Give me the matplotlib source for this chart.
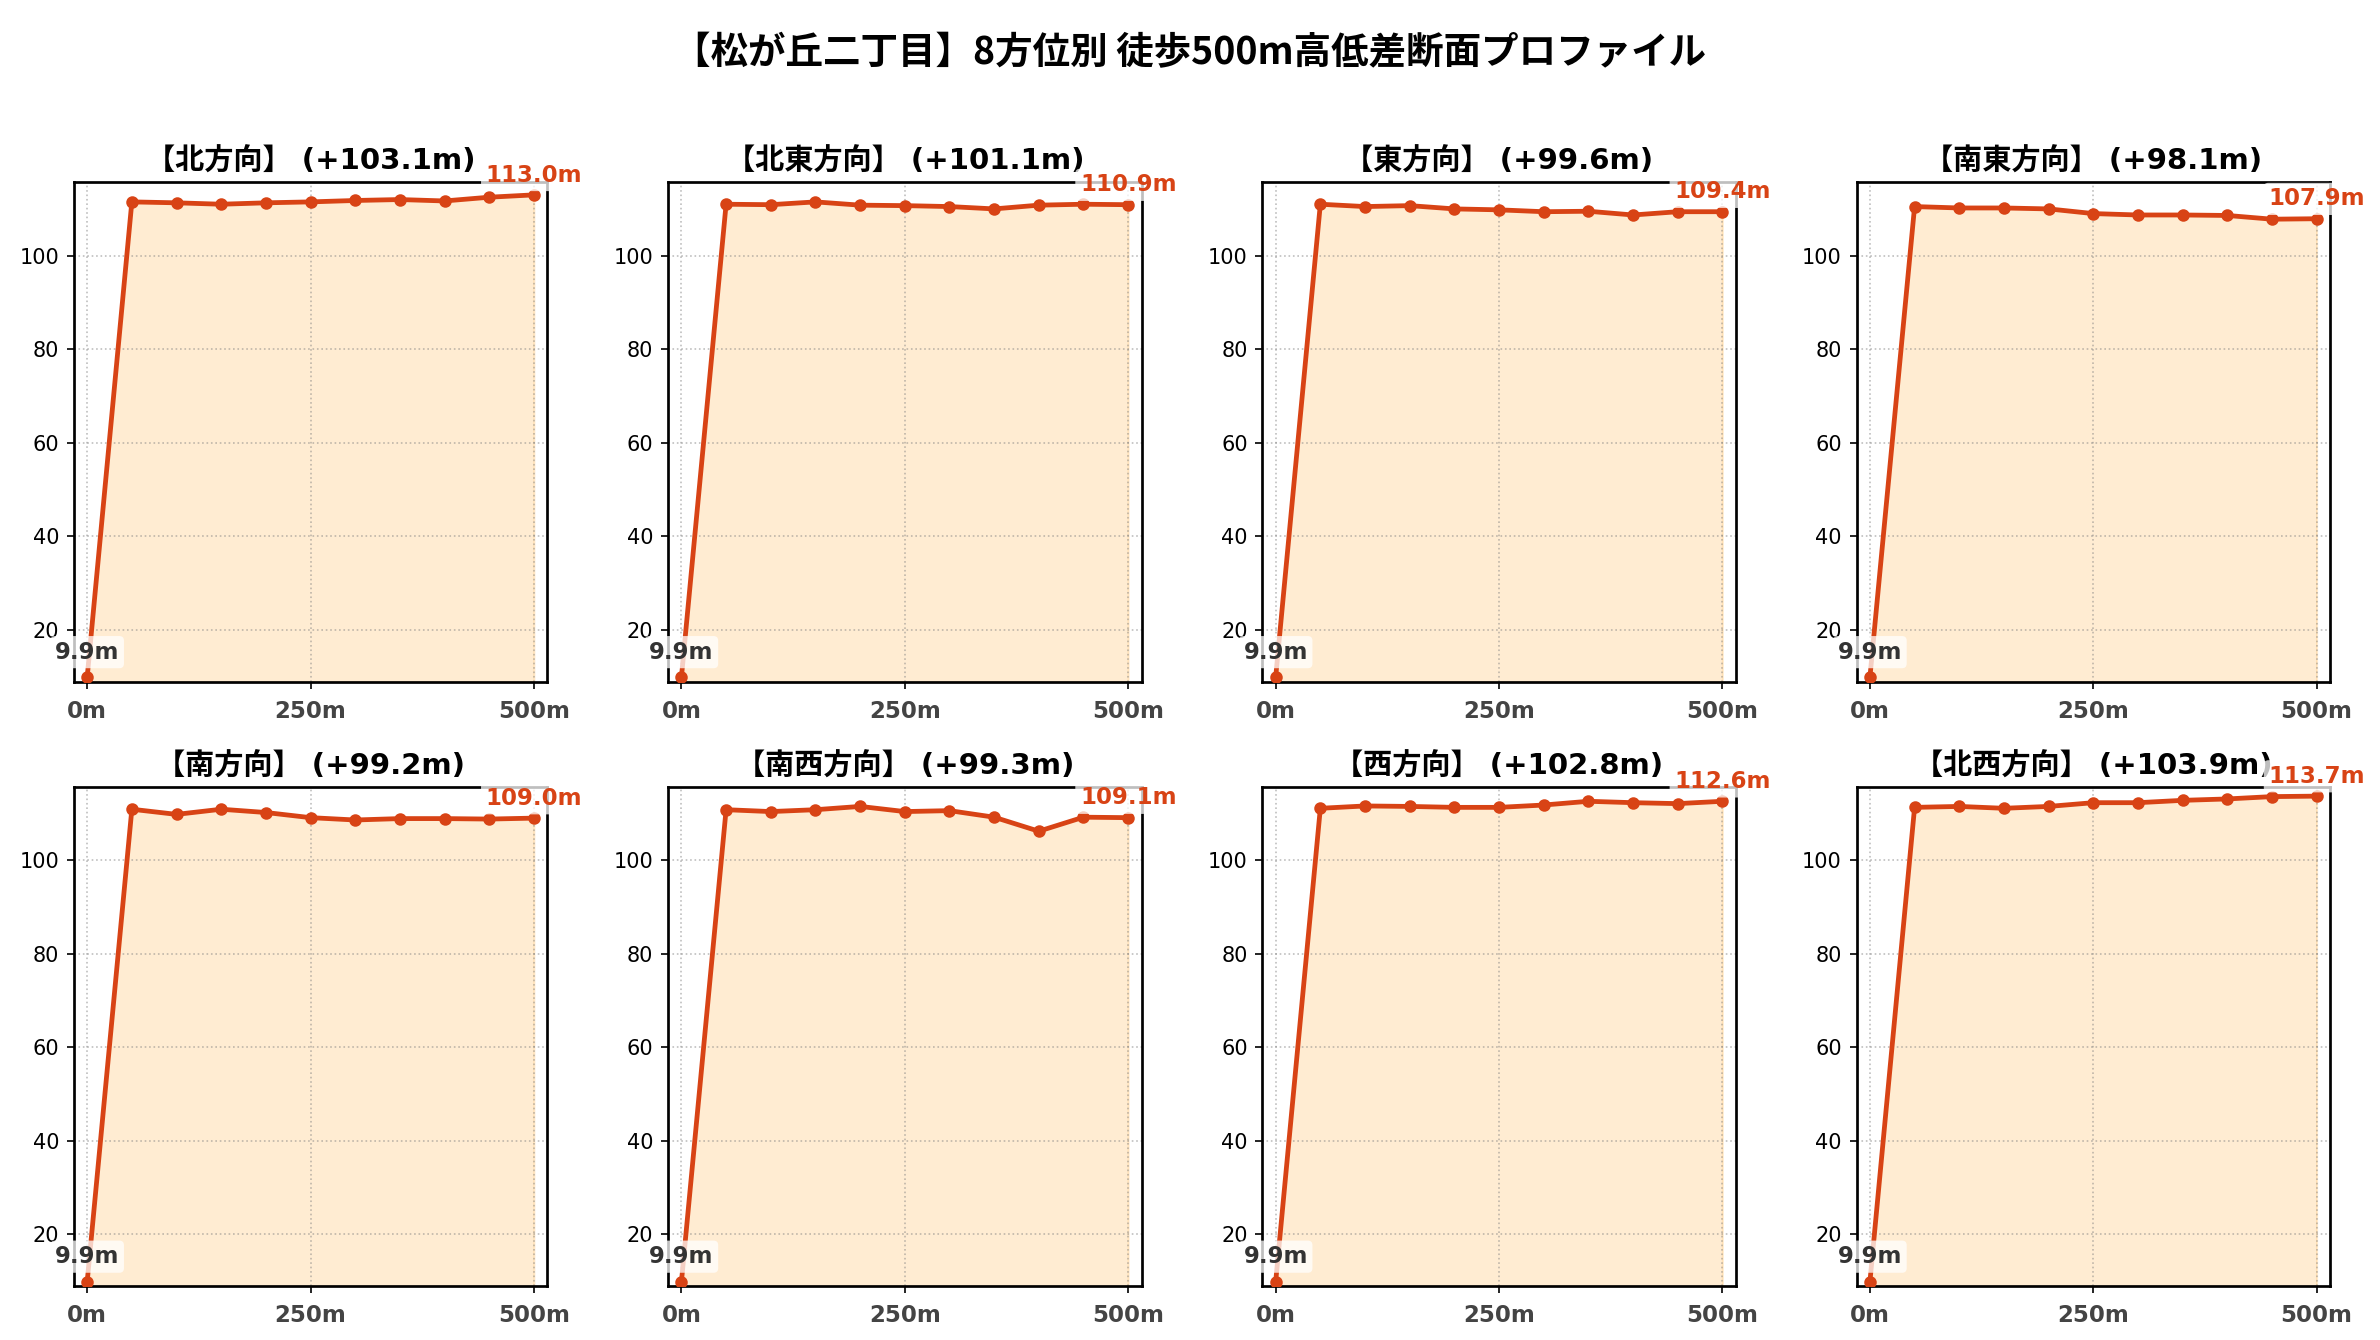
import numpy as np
import matplotlib
matplotlib.use("Agg")
import matplotlib.pyplot as plt

plt.rcParams['font.family'] = ['DejaVu Sans', 'Noto Sans CJK JP']

# distance along each route (m)
distances = [0, 50, 100, 150, 200, 250, 300, 350, 400, 450, 500]

directions = ["北方向", "北東方向", "東方向", "南東方向",
              "南方向", "南西方向", "西方向", "北西方向"]

# elevation gain shown in each panel title
gains = [103.1, 101.1, 99.6, 98.1, 99.2, 99.3, 102.8, 103.9]

north = [9.9, 111.5, 111.3, 111.0, 111.3, 111.5, 111.8, 112.0, 111.7, 112.5, 113.0]
north_east = [9.9, 111.0, 110.9, 111.5, 110.8, 110.7, 110.5, 110.0, 110.8, 111.0, 110.9]
east = [9.9, 111.0, 110.5, 110.7, 110.0, 109.8, 109.4, 109.5, 108.7, 109.4, 109.4]
south_east = [9.9, 110.5, 110.2, 110.2, 110.0, 109.0, 108.7, 108.7, 108.6, 107.8, 107.9]
south = [9.9, 110.9, 109.8, 110.9, 110.2, 109.1, 108.6, 108.9, 108.9, 108.8, 109.0]
south_west = [9.9, 110.8, 110.4, 110.8, 111.5, 110.4, 110.6, 109.2, 106.2, 109.2, 109.1]
west = [9.9, 111.1, 111.6, 111.5, 111.3, 111.3, 111.8, 112.6, 112.3, 112.1, 112.6]
north_west = [9.9, 111.3, 111.5, 111.1, 111.5, 112.3, 112.3, 112.8, 113.1, 113.6, 113.7]

profiles = [north, north_east, east, south_east, south, south_west, west, north_west]

line_color = "#D84315"
all_vals = np.concatenate([np.array(p) for p in profiles])
y_lo = all_vals.min() - 1
y_hi = all_vals.max() + 2

fig, axes = plt.subplots(2, 4, figsize=(2380/150, 1340/150), dpi=150)
fig.subplots_adjust(left=0.031, right=0.979, top=0.864, bottom=0.040,
                    wspace=0.255, hspace=0.21)

for ax, name, gain, elev in zip(axes.flat, directions, gains, profiles):
    ax.fill_between(distances, elev, y_lo, color="#FFB74D", alpha=0.25, zorder=1)
    ax.plot(distances, elev, color=line_color, linewidth=2.3, marker="o",
            markersize=5, zorder=3)
    ax.set_ylim(y_lo, y_hi)
    ax.set_xlim(-15, 515)
    ax.grid(True, linestyle=":", color="gray", alpha=0.5)
    ax.set_xticks([0, 250, 500])
    ax.set_xticklabels(["0m", "250m", "500m"], fontweight="bold", color="#444444",
                       fontsize=11)
    ax.tick_params(axis="x", pad=5)
    ax.set_title(f"【{name}】 (+{gain:.1f}m)", fontsize=14, fontweight="bold")
    for s in ax.spines.values():
        s.set_linewidth(1.3)

    ax.annotate(f"{elev[0]:.1f}m", (distances[0], elev[0]), xytext=(0, 6.5),
                textcoords="offset points", ha="center", va="bottom",
                fontsize=11, fontweight="bold", color="#333333",
                bbox=dict(boxstyle="round,pad=0.2", fc="white", ec="none", alpha=0.75),
                zorder=5, annotation_clip=False)
    ax.annotate(f"{elev[-1]:.1f}m", (distances[-1], elev[-1]), xytext=(0, 4),
                textcoords="offset points", ha="center", va="bottom",
                fontsize=11, fontweight="bold", color=line_color,
                bbox=dict(boxstyle="round,pad=0.2", fc="white", ec="none", alpha=0.75),
                zorder=5, annotation_clip=False)

fig.suptitle("【松が丘二丁目】8方位別 徒歩500m高低差断面プロファイル",
             fontsize=18, fontweight="bold", family=["Noto Sans CJK JP"], y=0.975)

fig.savefig("out.png", dpi=150)
